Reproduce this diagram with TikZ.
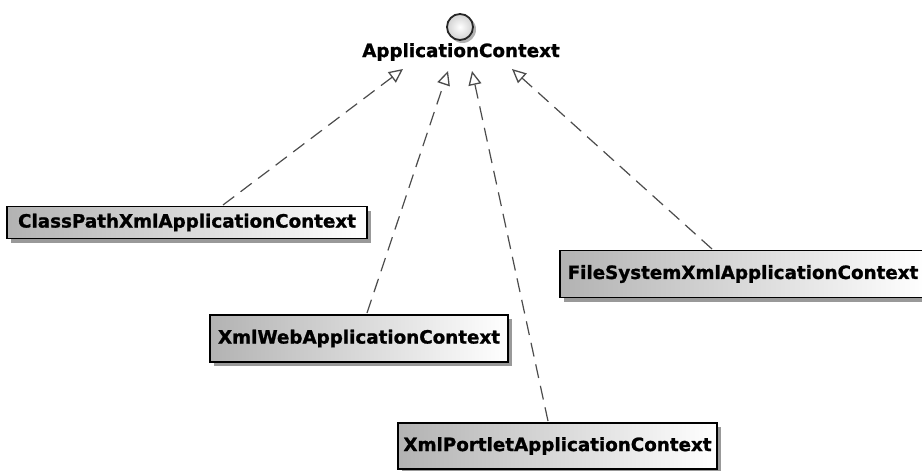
\documentclass[tikz,border=0pt]{standalone}
\usepackage{fontspec}
\setmainfont{DejaVu Sans}[BoldFeatures={FakeBold=1.2}]
\usetikzlibrary{arrows.meta,shadows}
\tikzset{
  clsbox/.style={draw=black, line width=1.3pt, left color=black!30, right color=white,
    drop shadow={shadow xshift=4pt, shadow yshift=-4pt, fill=black!40, opacity=1},
    inner sep=0pt, font=\fontsize{18.3}{20}\selectfont\bfseries, text=black},
  realize/.style={draw=black!70, line width=1.2pt, dash pattern=on 14pt off 8pt,
    -{Triangle[open, length=14pt, width=13pt, fill=white, line width=1.3pt]}},
  iface/.style={font=\fontsize{18.3}{20}\selectfont\bfseries}
}
\begin{document}
\begin{tikzpicture}[x=1pt,y=-1pt]
\useasboundingbox[fill=white] (0,0) rectangle (922,471);
% interface
\fill[black!30] (462.5,29.5) circle (13.5);
\shade[inner color=white, outer color=black!18, draw=black!85, line width=1.8pt] (460,27) node (ball) {} circle (13);
\node[iface] (ac) at (461,52) {ApplicationContext};
% classes
\node[clsbox, minimum width=360pt, minimum height=32pt] (cp) at (187,222.5) {ClassPathXmlApplicationContext};
\node[clsbox, minimum width=366pt, minimum height=47pt] (fs) at (743,274) {FileSystemXmlApplicationContext};
\node[clsbox, minimum width=298pt, minimum height=47pt] (web) at (359,338.5) {XmlWebApplicationContext};
\node[clsbox, minimum width=319pt, minimum height=46pt] (pt) at (557.5,446) {XmlPortletApplicationContext};
% arrow tips
\coordinate (t1) at (403,69);
\coordinate (t2) at (448,71);
\coordinate (t3) at (472,71);
\coordinate (t4) at (512,69);
\coordinate (s1) at (223,205);
\coordinate (s2) at (367,313);
\coordinate (s3) at (548,421);
\coordinate (s4) at (712,249);
\draw[realize] (s1) -- (t1);
\draw[realize] (s2) -- (t2);
\draw[realize] (s3) -- (t3);
\draw[realize] (s4) -- (t4);
\end{tikzpicture}
\end{document}
